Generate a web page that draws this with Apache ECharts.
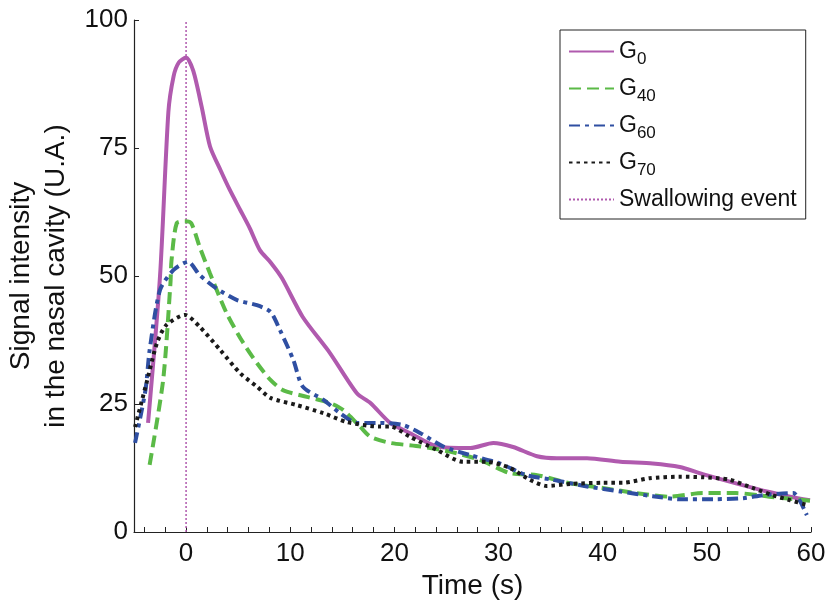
<!DOCTYPE html>
<html><head><meta charset="utf-8">
<script src="https://cdn.jsdelivr.net/npm/echarts@6/dist/echarts.min.js"></script>
<style>html,body{margin:0;padding:0;background:#fff}#c{width:831px;height:604px}</style>
</head><body><div id="c"></div>
<script>
const xTicks = [0, 10, 20, 30, 40, 50, 60];
const xMinorTicks = [-4,-2,0,2,4,6,8,10,12,14,16,18,20,22,24,26,28,30,32,34,36,38,40,42,44,46,48,50,52,54,56,58,60];
const yTicks = [0, 25, 50, 75, 100];
const seriesNames = ['G0', 'G40', 'G60', 'G70'];
const subs = {G0: '0', G40: '40', G60: '60', G70: '70'};
const g0 = [[-3.65,21.3],[-2.5,50],[-1.7,82],[-1.2,89],[-0.7,91.7],[0,92.7],[0.7,90],[1.5,83],[2.3,75.3],[3.3,70.7],[4.2,66.8],[5.2,62.9],[6.1,59.4],[7.1,55],[8.1,52.7],[9.2,49.6],[11.2,42],[13.8,35],[16.4,27.1],[17.7,25.2],[19.6,21.3],[21.5,19.3],[24.1,16.7],[27.3,16.4],[29.5,17.4],[31.4,16.6],[33.7,14.8],[35.6,14.4],[38.5,14.4],[41.7,13.7],[44.8,13.4],[47.4,12.7],[49.6,11.3],[52.8,9.5],[56,7.8],[58,6.9],[59.9,6.2]];
const g40 = [[-3.5,13.1],[-2.2,29.7],[-1.5,48.6],[-1.4,53],[-0.9,60.3],[-0.1,60.7],[0.5,60.3],[1.3,55.7],[2.3,50.5],[3.9,42.7],[5.5,36.9],[6.8,33],[8.1,29.7],[9.3,27.7],[11.6,26.4],[13.8,25.2],[15.1,23.8],[16.7,20.6],[17.7,18.6],[19.6,17.4],[22.5,16.7],[25.3,15.7],[28.2,14.1],[31.1,11.5],[33.7,11.1],[36.9,9.5],[40,8.6],[43.2,7.6],[46.4,6.9],[49.6,7.6],[52.8,7.6],[56,6.9],[59.9,6.1]];
const g60 = [[-4.9,17.4],[-3.9,27.7],[-3.5,35.5],[-2.5,47.3],[-1.2,51.2],[0.2,52.8],[1.3,50.2],[2.9,47.6],[4.9,45.3],[6.8,44.3],[8.1,43],[9,39.5],[10.3,33.6],[11.2,28.4],[13.2,25.8],[14.8,23.2],[16.4,21.3],[18.6,21.3],[20.8,20.9],[22.5,19.3],[24.7,16.7],[27.3,15],[30.1,13.4],[32.7,11.1],[35.2,10.2],[38.5,8.9],[41.7,7.9],[44.8,7],[47.4,6.4],[50.6,6.4],[53.5,6.6],[55.4,7.2],[58.3,7.6],[58.9,6.2],[59.6,3.3]];
const g70 = [[-4.9,20.5],[-3.8,29.1],[-2.8,36.9],[-1.9,40.4],[-0.1,42.4],[1.3,40.1],[3.3,35.5],[5.2,31],[6.8,28.4],[8.1,26.2],[10.6,24.8],[13.2,23.2],[15.4,21.5],[18.6,20.6],[19.6,20.6],[21.5,18.6],[24.1,16],[26.6,13.7],[28.9,13.7],[31.1,12.5],[33,10.2],[34.6,9],[36.9,9.4],[40,9.6],[41.9,9.6],[44.5,10.5],[47.4,10.8],[49.6,10.7],[52.2,10.2],[54.4,8.6],[56.3,7.2],[58,6.2],[59.6,5.3]];
const swallow = [[0, 0], [0, 100]];

const FONT = '"Liberation Sans", Arial, sans-serif';
const colors = ['#B05AAE', '#5BBA47', '#2F4FA2', '#1a1a1a'];
const chart = echarts.init(document.getElementById('c'), null, {renderer: 'canvas'});

function lineSeries(name, data, color, type, width) {
  return {name, type: 'line', data, symbol: 'none', showSymbol: false, smooth: 0.25,
    lineStyle: {color, width, type}, itemStyle: {color}, z: 3};
}

chart.setOption({
  animation: false,
  grid: {left: 134, right: 20, top: 20, bottom: 72, outerBoundsMode: 'none', containLabel: false},
  xAxis: {
    type: 'value', min: -5, max: 60,
    name: 'Time (s)', nameLocation: 'middle', nameGap: 34,
    nameTextStyle: {fontFamily: FONT, fontSize: 28, color: '#111'},
    axisLine: {show: true, onZero: false, lineStyle: {color: '#222', width: 1.2}},
    axisTick: {show: true, inside: true, length: 5, customValues: xMinorTicks, lineStyle: {color: '#222'}},
    axisLabel: {customValues: xTicks, fontFamily: FONT, fontSize: 26, color: '#111', margin: 9},
    splitLine: {show: false}
  },
  yAxis: {
    type: 'value', min: 0, max: 100, interval: 25,
    name: 'Signal intensity\nin the nasal cavity (U.A.)', nameLocation: 'middle', nameGap: 57,
    nameTextStyle: {fontFamily: FONT, fontSize: 28, color: '#111', lineHeight: 35},
    axisLine: {show: true, onZero: false, lineStyle: {color: '#222', width: 1.2}},
    axisTick: {show: true, inside: true, length: 5, customValues: yTicks, lineStyle: {color: '#222'}},
    axisLabel: {customValues: yTicks, fontFamily: FONT, fontSize: 26, color: '#111', margin: 6},
    splitLine: {show: false}
  },
  legend: {
    orient: 'vertical', left: 560, top: 30,
    backgroundColor: '#fff', borderColor: '#222', borderWidth: 1, borderRadius: 0,
    padding: [10, 9, 8, 8], itemGap: 9, itemWidth: 45, itemHeight: 14,
    itemStyle: {opacity: 0},
    data: ['G0', 'G40', 'G60', 'G70', 'Swallowing event'],
    formatter: function (n) { return subs[n] ? 'G{sub|' + subs[n] + '}' : n; },
    textStyle: {fontFamily: FONT, fontSize: 23, color: '#111',
      rich: {sub: {fontFamily: FONT, fontSize: 17, color: '#111', verticalAlign: 'bottom', padding: [16, 0, 0, 0]}}}
  },
  series: [
    lineSeries('G0', g0, colors[0], 'solid', 4),
    lineSeries('G40', g40, colors[1], [12, 6], 4),
    lineSeries('G60', g60, colors[2], [11, 5, 4, 5], 4),
    lineSeries('G70', g70, colors[3], [3.5, 4], 4),
    {name: 'Swallowing event', type: 'line', data: swallow, symbol: 'none', showSymbol: false,
      lineStyle: {color: '#B05AAE', width: 1.5, type: [2, 2]}, itemStyle: {color: '#B05AAE'}, z: 2}
  ]
});
</script></body></html>
